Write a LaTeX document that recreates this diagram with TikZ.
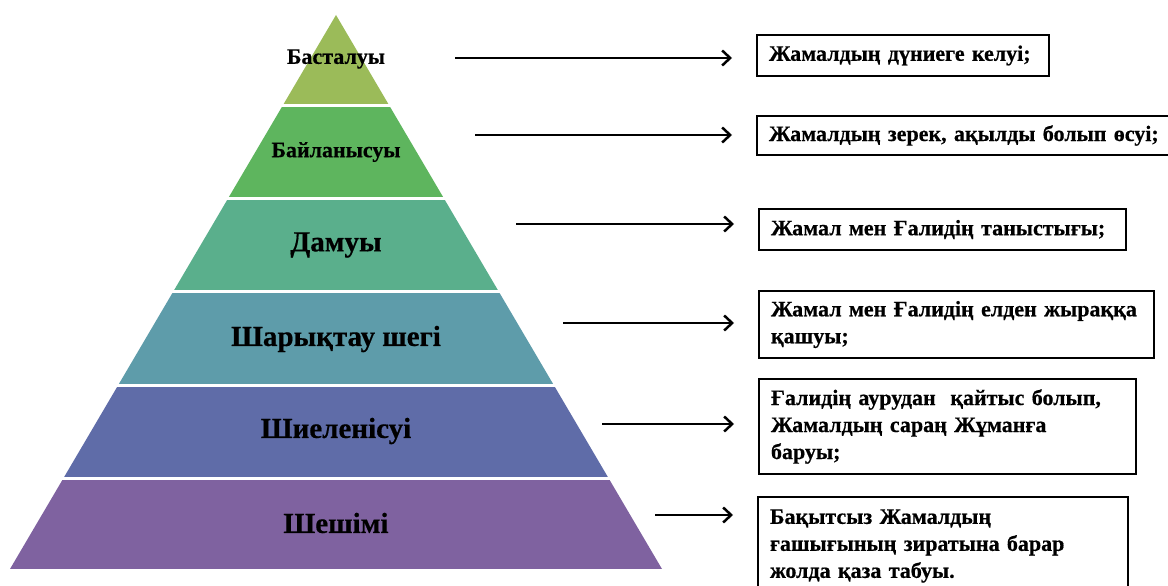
\documentclass[tikz,border=0pt]{standalone}
\usepackage{fontspec}
\setmainfont{Liberation Serif}
\newfontfamily\hv{Liberation Serif}[BoldFeatures={FakeBold=0.5}]
\usetikzlibrary{arrows.meta}
\definecolor{lA}{HTML}{9BBB59}
\definecolor{lB}{HTML}{5EB55E}
\definecolor{lC}{HTML}{5AAF8C}
\definecolor{lD}{HTML}{5E9CAA}
\definecolor{lE}{HTML}{5F6CA8}
\definecolor{lF}{HTML}{7F62A0}
\begin{document}
\begin{tikzpicture}[x=1pt,y=-1pt,
  lblS/.style={font=\hv\bfseries\fontsize{22}{22}\selectfont, inner sep=0pt},
  lblL/.style={font=\hv\bfseries\fontsize{29}{29}\selectfont, inner sep=0pt},
  box/.style={draw=black, line width=2pt, anchor=north west, inner xsep=12pt, inner ysep=0pt,
    align=left, font=\hv\bfseries\fontsize{22}{27}\selectfont},
  shadowbox/.style={draw=black!25, line width=2pt},
  arr/.style={draw=black, line width=2.5pt, -{Straight Barb[length=8pt,width=15pt]}, shorten >=24pt}]
\useasboundingbox (0,0) rectangle (1168,586);
\fill[white] (0,0) rectangle (1168,586);
% pyramid layers
\foreach \t/\b/\c in {0/103.5/lA, 106.5/197/lB, 200/290/lC, 293/383.5/lD, 386.5/476.5/lE, 479.5/569/lF}{
  \begin{scope}
    \clip (336,15) -- (10,569) -- (662,569) -- cycle;
    \fill[\c] (0,\t) rectangle (700,\b);
  \end{scope}
}
% labels
\node[lblS] (p1) at (336,59) {Басталуы};
\node[lblS] (p2) at (336,152) {Байланысуы};
\node[lblL] (p3) at (336,245) {Дамуы};
\node[lblL] (p4) at (336,339) {Шарықтау~шегі};
\node[lblL] (p5) at (336,431) {Шиеленісуі};
\node[lblL] (p6) at (336,523) {Шешімі};
% boxes
\node[box, text width=268, minimum height=41] (b1) at (756,34) {\mbox{Жамалдың дүниеге келуі;}};
\node[box, text width=416, minimum height=39] (b2) at (756,115) {\mbox{Жамалдың зерек, ақылды болып өсуі;}};
\node[box, text width=343, minimum height=41] (b3) at (758,208) {\mbox{Жамал мен Ғалидің таныстығы;}};
\node[box, text width=371, minimum height=67] (b4) at (758,290) {\mbox{Жамал\ мен Ғалидің елден жыраққа}\\\mbox{қашуы;}};
\node[box, text width=353, minimum height=95] (b5) at (758,378) {\mbox{Ғалидің аурудан\ \ қайтыс болып,}\\\mbox{Жамалдың\ сараң\ Жұманға}\\\mbox{баруы;}};
\node[box, text width=346, minimum height=98] (b6) at (757,496) {\mbox{Бақытсыз Жамалдың}\\\mbox{ғашығының\ зиратына\ барар}\\\mbox{жолда қаза\ табуы.}};
% arrow starts
\coordinate (s1) at (455,58);
\coordinate (s2) at (475,135);
\coordinate (s3) at (516,224);
\coordinate (s4) at (563,323);
\coordinate (s5) at (602,424);
\coordinate (s6) at (655,515);
\draw[arr] (s1) -- (s1 -| b1.west);
\draw[arr] (s2) -- (s2 -| b2.west);
\draw[arr] (s3) -- (s3 -| b3.west);
\draw[arr] (s4) -- (s4 -| b4.west);
\draw[arr] (s5) -- (s5 -| b5.west);
\draw[arr] (s6) -- (s6 -| b6.west);
\end{tikzpicture}
\end{document}
